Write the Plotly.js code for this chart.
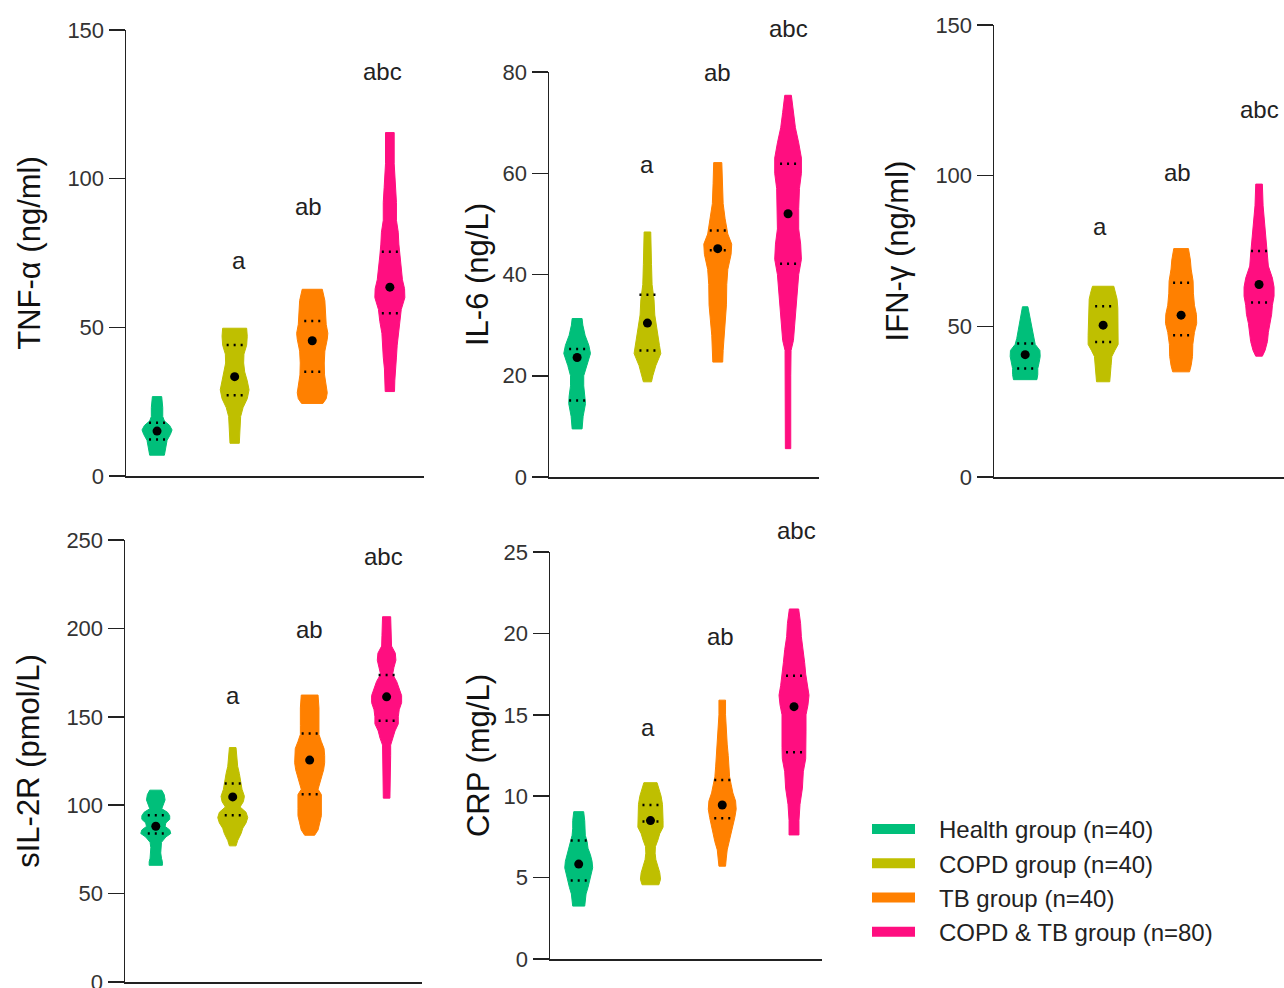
<!DOCTYPE html>
<html>
<head>
<meta charset="utf-8">
<script src="https://cdn.plot.ly/plotly-3.0.1.min.js"></script>
<style>
  html, body { margin: 0; padding: 0; background: #fff; }
  #chart { width: 1284px; height: 988px; }
</style>
</head>
<body>
<div id="chart"></div>
<script>
// ---------------- DATA ----------------
const groups = ["Health group (n=40)", "COPD group (n=40)", "TB group (n=40)", "COPD & TB group (n=80)"];
const letters = ["", "a", "ab", "abc"];

// TNF-α (ng/ml): outline levels (y) and relative half-widths (density, 0-1)
const tnfLevels = [
  [7, 9, 12, 14, 15.5, 17, 18.5, 20, 23, 26.7],
  [11, 15, 20, 23, 26, 29, 32, 35, 38, 41, 44, 47, 49.7],
  [24.4, 26, 28, 31, 34, 38, 42, 46, 48, 51, 55, 59, 62.8],
  [28.4, 32, 36, 40, 44, 48, 52, 56, 60, 63, 66, 70, 74, 78, 82, 86, 92, 97, 105, 115.5]
];
const tnfWidths = [
  [0.49, 0.56, 0.67, 0.89, 1, 0.84, 0.49, 0.38, 0.38, 0.31],
  [0.31, 0.33, 0.4, 0.56, 0.84, 0.96, 0.84, 0.67, 0.6, 0.62, 0.8, 0.84, 0.8],
  [0.71, 0.93, 1, 0.93, 0.82, 0.8, 0.84, 1, 1.04, 0.93, 0.89, 0.84, 0.67],
  [0.31, 0.33, 0.36, 0.44, 0.49, 0.53, 0.67, 0.76, 1, 0.98, 0.84, 0.73, 0.67, 0.6, 0.56, 0.44, 0.44, 0.38, 0.29, 0.29]
];
const tnfMedian = [15.1, 33.4, 45.5, 63.5];
const tnfQ1 = [12.3, 27.2, 35.1, 54.7];
const tnfQ3 = [17.9, 44.1, 52.1, 75.4];
const tnfLetterX = [null, 1.06, 1.95, 2.9];
const tnfLetterY = [null, 72.6, 90.5, 135.9];

// IL-6 (ng/L)
const il6Levels = [
  [9.5, 12, 14.5, 16, 18, 20, 22, 24.4, 26, 28, 30, 31.3],
  [18.8, 20, 22, 24.4, 26, 28, 30, 32, 35, 38, 42, 45, 48.4],
  [22.7, 25, 28, 31, 34, 38, 41, 44, 46, 48, 51, 54, 58, 62.1],
  [5.6, 10, 15, 20, 25, 27, 30, 33, 36, 40, 43, 46, 49, 53, 57, 60, 63, 66, 69, 72, 75.4]
];
const il6Widths = [
  [0.33, 0.4, 0.56, 0.53, 0.44, 0.44, 0.62, 0.89, 0.78, 0.53, 0.38, 0.33],
  [0.27, 0.36, 0.56, 0.89, 0.8, 0.67, 0.58, 0.49, 0.44, 0.31, 0.27, 0.27, 0.22],
  [0.33, 0.36, 0.4, 0.49, 0.58, 0.6, 0.67, 0.89, 0.93, 0.67, 0.49, 0.36, 0.31, 0.27],
  [0.18, 0.18, 0.18, 0.18, 0.2, 0.36, 0.44, 0.53, 0.62, 0.71, 0.89, 0.84, 0.71, 0.71, 0.76, 0.89, 0.89, 0.71, 0.49, 0.36, 0.22]
];
const il6Median = [23.6, 30.4, 45.1, 52];
const il6Q1 = [15.1, 25, 44.8, 42.1];
const il6Q3 = [25.3, 36, 48.7, 61.9];
const il6LetterX = [null, 1, 2, 3];
const il6LetterY = [null, 61.8, 80, 88.5];

// IFN-γ (ng/ml)
const ifnLevels = [
  [32.3, 34, 36, 38, 40, 42, 44, 46, 48, 50, 53, 56.5],
  [31.6, 34, 37, 40, 42, 44, 47, 50, 53, 56, 59, 61, 63.3],
  [34.9, 37, 40, 44, 48, 51, 54, 57, 61, 65, 69, 72, 75.8],
  [40.1, 42, 45, 48, 51, 54, 57, 60, 63, 66, 70, 74, 78, 82, 86, 90, 97.2]
];
const ifnWidths = [
  [0.78, 0.84, 0.84, 0.93, 1, 0.98, 0.67, 0.56, 0.49, 0.4, 0.31, 0.18],
  [0.44, 0.49, 0.53, 0.58, 0.78, 1, 1, 0.98, 0.98, 0.98, 0.93, 0.84, 0.71],
  [0.56, 0.67, 0.76, 0.78, 0.89, 1.04, 1.02, 0.89, 0.82, 0.8, 0.67, 0.62, 0.49],
  [0.22, 0.4, 0.56, 0.62, 0.71, 0.84, 0.89, 1, 1, 0.89, 0.62, 0.56, 0.49, 0.4, 0.33, 0.27, 0.22]
];
const ifnMedian = [40.6, 50.4, 53.7, 63.9];
const ifnQ1 = [36, 44.8, 47, 57.9];
const ifnQ3 = [44.3, 56.7, 64.5, 75];
const ifnLetterX = [null, 0.96, 1.96, 3];
const ifnLetterY = [null, 83, 101.2, 121.8];

// sIL-2R (pmol/L)
const il2rLevels = [
  [66, 68, 70, 73, 76, 79, 82, 84, 86, 88, 90, 92, 94, 96, 98, 100, 103, 106, 108.5],
  [77, 80, 84, 87, 90, 93, 96, 99, 102, 105, 109, 113, 118, 122, 127, 132.6],
  [83, 86, 90, 94, 98, 102, 106, 109, 112, 116, 120, 124, 128, 132, 136, 140, 145, 150, 155, 162.3],
  [104, 110, 116, 122, 128, 134, 138, 142, 146, 150, 154, 158, 162, 166, 170, 174, 178, 182, 186, 190, 196, 206.6]
];
const il2rWidths = [
  [0.44, 0.44, 0.38, 0.33, 0.33, 0.38, 0.67, 1, 0.93, 0.62, 0.67, 0.93, 0.93, 0.78, 0.4, 0.49, 0.62, 0.56, 0.4],
  [0.22, 0.33, 0.56, 0.67, 0.89, 1, 0.89, 0.49, 0.71, 0.78, 0.62, 0.56, 0.44, 0.33, 0.27, 0.22],
  [0.33, 0.56, 0.67, 0.78, 0.78, 0.78, 0.78, 0.56, 0.67, 0.78, 0.93, 1, 1, 0.96, 0.78, 0.62, 0.62, 0.62, 0.62, 0.56],
  [0.22, 0.22, 0.22, 0.27, 0.27, 0.27, 0.44, 0.56, 0.78, 0.78, 0.84, 1, 1, 0.84, 0.67, 0.4, 0.49, 0.62, 0.58, 0.33, 0.31, 0.27]
];
const il2rMedian = [88.1, 104.7, 125.5, 161.3];
const il2rQ1 = [84, 94.3, 106.2, 147.7];
const il2rQ3 = [94.3, 112.3, 140.6, 173.6];
const il2rLetterX = [null, 1, 2, 2.96];
const il2rLetterY = [null, 162.3, 199.1, 240.4];

// CRP (mg/L)
const crpLevels = [
  [3.25, 3.6, 4.0, 4.4, 4.8, 5.2, 5.6, 6.0, 6.4, 6.8, 7.2, 7.6, 8.0, 8.5, 9.05],
  [4.56, 4.9, 5.3, 5.7, 6.1, 6.5, 6.9, 7.3, 7.7, 8.1, 8.5, 9.0, 9.5, 10.0, 10.4, 10.83],
  [5.7, 6.2, 6.7, 7.2, 7.7, 8.2, 8.7, 9.2, 9.7, 10.2, 10.7, 11.2, 11.8, 12.5, 13.2, 14, 15, 15.9],
  [7.62, 8.5, 9.5, 10.5, 11.5, 12.3, 13, 14, 15, 15.6, 16.2, 16.8, 17.5, 18.2, 19, 19.8, 20.6, 21.5]
];
const crpWidths = [
  [0.4, 0.44, 0.49, 0.62, 0.71, 0.84, 0.93, 0.89, 0.78, 0.62, 0.56, 0.44, 0.4, 0.4, 0.33],
  [0.56, 0.67, 0.62, 0.49, 0.36, 0.31, 0.33, 0.49, 0.62, 0.84, 0.84, 0.84, 0.8, 0.71, 0.58, 0.44],
  [0.22, 0.27, 0.33, 0.49, 0.62, 0.71, 0.84, 0.93, 0.89, 0.71, 0.6, 0.49, 0.44, 0.4, 0.33, 0.27, 0.22, 0.22],
  [0.33, 0.33, 0.4, 0.56, 0.62, 0.78, 0.8, 0.8, 0.8, 0.93, 1, 0.89, 0.78, 0.71, 0.62, 0.49, 0.44, 0.31]
];
const crpMedian = [5.83, 8.5, 9.46, 15.5];
const crpQ1 = [4.82, 8.45, 8.65, 12.7];
const crpQ3 = [7.28, 9.46, 11.0, 17.4];
const crpLetterX = [null, 0.97, 1.97, 3.03];
const crpLetterY = [null, 14.25, 19.78, 26.3];

// ---------------- STYLE / LAYOUT ----------------
const colors = ["#00BF7A", "#BFBF00", "#FF8000", "#FF0E80"];
const W = 1284, H = 988;
const FONT = "Liberation Sans, Arial, sans-serif";
const maxHalfPx = 15;   // visual half-width of widest violin part

const panels = [
  {title: "TNF-α (ng/ml)", lv: tnfLevels, wd: tnfWidths, med: tnfMedian, q1: tnfQ1, q3: tnfQ3, lx: tnfLetterX, ly: tnfLetterY,
   xd: [126/W, 424/W], xr: [-0.4, 3.44], yd: [1-476/H, 1-30/H], yr: [0, 150], dt: 50, so: 17},
  {title: "IL-6 (ng/L)", lv: il6Levels, wd: il6Widths, med: il6Median, q1: il6Q1, q3: il6Q3, lx: il6LetterX, ly: il6LetterY,
   xd: [549/W, 819/W], xr: [-0.4, 3.44], yd: [1-477/H, 1-72/H], yr: [0, 80], dt: 20, so: 5},
  {title: "IFN-γ (ng/ml)", lv: ifnLevels, wd: ifnWidths, med: ifnMedian, q1: ifnQ1, q3: ifnQ3, lx: ifnLetterX, ly: ifnLetterY,
   xd: [994/W, 1], xr: [-0.4, 3.32], yd: [1-477/H, 1-25/H], yr: [0, 150], dt: 50, so: 17},
  {title: "sIL-2R (pmol/L)", lv: il2rLevels, wd: il2rWidths, med: il2rMedian, q1: il2rQ1, q3: il2rQ3, lx: il2rLetterX, ly: il2rLetterY,
   xd: [125/W, 422/W], xr: [-0.4, 3.46], yd: [1-982/H, 1-540/H], yr: [0, 250], dt: 50, so: 17},
  {title: "CRP (mg/L)", lv: crpLevels, wd: crpWidths, med: crpMedian, q1: crpQ1, q3: crpQ3, lx: crpLetterX, ly: crpLetterY,
   xd: [550/W, 822/W], xr: [-0.4, 3.39], yd: [1-959/H, 1-552/H], yr: [0, 25], dt: 5, so: 5}
];

const traces = [];
const annotations = [];
const layout = {
  width: W, height: H,
  margin: {l: 0, r: 0, t: 0, b: 0},
  paper_bgcolor: "#fff", plot_bgcolor: "rgba(0,0,0,0)",
  showlegend: true,
  legend: {
    x: 867/W, y: 1 - 807/H, xanchor: "left", yanchor: "top",
    font: {family: FONT, size: 24, color: "#222"},
    itemwidth: 62, tracegroupgap: 0, bgcolor: "rgba(0,0,0,0)"
  },
  font: {family: FONT, color: "#222"},
  annotations: annotations
};

panels.forEach((p, pi) => {
  const sfx = pi === 0 ? "" : String(pi + 1);
  const xa = "x" + sfx, ya = "y" + sfx;
  const pxPerCat = (p.xd[1] - p.xd[0]) * W / (p.xr[1] - p.xr[0]);
  const halfMax = maxHalfPx / pxPerCat;
  const qHalf = 8 / pxPerCat;

  layout["xaxis" + sfx] = {
    domain: p.xd, range: p.xr, anchor: ya,
    showline: true, linecolor: "#222", linewidth: 1.5,
    showticklabels: false, ticks: "", showgrid: false, zeroline: false, fixedrange: true
  };
  layout["yaxis" + sfx] = {
    domain: p.yd, range: p.yr, anchor: xa, dtick: p.dt,
    showline: true, linecolor: "#222", linewidth: 1.5,
    ticks: "outside", ticklen: 16, tickwidth: 1.5, tickcolor: "#222",
    tickfont: {family: FONT, size: 22, color: "#333"}, ticklabeloverflow: "allow",
    showgrid: false, zeroline: false, fixedrange: true,
    title: {text: p.title, font: {family: FONT, size: 31, color: "#111"}, standoff: p.so}
  };

  for (let g = 0; g < 4; g++) {
    const lv = p.lv[g], wd = p.wd[g];
    const xs = [], ys = [];
    for (let i = 0; i < lv.length; i++) { xs.push(g - wd[i] * halfMax); ys.push(lv[i]); }
    for (let i = lv.length - 1; i >= 0; i--) { xs.push(g + wd[i] * halfMax); ys.push(lv[i]); }
    xs.push(xs[0]); ys.push(ys[0]);
    traces.push({
      type: "scatter", mode: "lines", x: xs, y: ys, xaxis: xa, yaxis: ya,
      fill: "toself", fillcolor: colors[g], line: {color: colors[g], width: 1},
      showlegend: false, hoverinfo: "skip"
    });
    // quartile dotted lines
    [p.q1[g], p.q3[g]].forEach(q => {
      traces.push({
        type: "scatter", mode: "lines", x: [g - qHalf, g + qHalf], y: [q, q], xaxis: xa, yaxis: ya,
        line: {color: "#000", width: 2.5, dash: "2px,5px"}, showlegend: false, hoverinfo: "skip"
      });
    });
    // median
    traces.push({
      type: "scatter", mode: "markers", x: [g], y: [p.med[g]], xaxis: xa, yaxis: ya,
      marker: {symbol: "circle", size: 9, color: "#000"}, showlegend: false, hoverinfo: "skip"
    });
    if (letters[g]) {
      // letters can sit above the axis range, so place them in paper space
      const yPaper = p.yd[0] + (p.ly[g] - p.yr[0]) / (p.yr[1] - p.yr[0]) * (p.yd[1] - p.yd[0]);
      annotations.push({
        xref: xa, yref: "paper", x: p.lx[g], y: yPaper, text: letters[g], showarrow: false,
        xanchor: "center", yanchor: "middle",
        font: {family: FONT, size: 24, color: "#222"}
      });
    }
  }
});

// legend entries
groups.forEach((name, g) => {
  traces.push({
    type: "scatter", mode: "lines", x: [null], y: [null], xaxis: "x", yaxis: "y",
    name: name, line: {color: colors[g], width: 13, dash: "43px,200px"}, showlegend: true, hoverinfo: "skip"
  });
});

Plotly.newPlot("chart", traces, layout, {staticPlot: true, displayModeBar: false});
</script>
</body>
</html>
